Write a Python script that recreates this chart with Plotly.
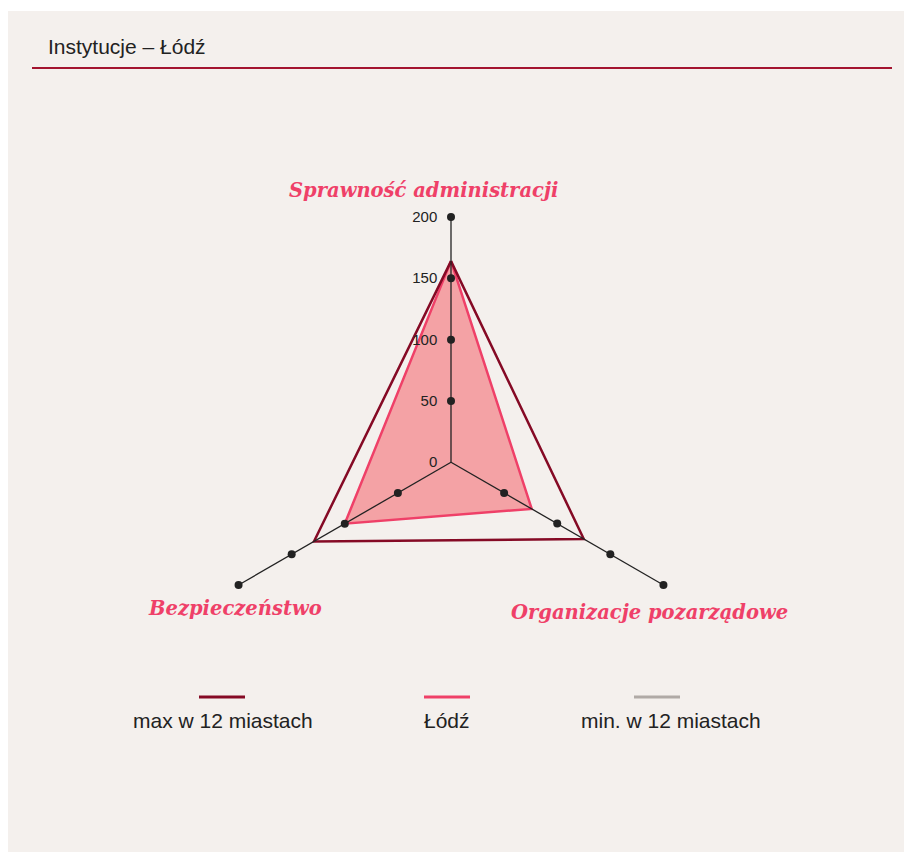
import plotly.graph_objects as go

# ---- data ----
categories = ["Sprawność administracji", "Organizacje pozarządowe", "Bezpieczeństwo"]
max_values = [164, 125, 129]
lodz_values = [164, 76, 100]
min_values = [0, 0, 0]
radial_ticks = [0, 50, 100, 150, 200]
series_names = ["max w 12 miastach", "Łódź", "min. w 12 miastach"]
title_text = "Instytucje – Łódź"

W, H = 904, 852
BG = "#f4f0ed"
DARK = "#850a25"
PINK = "#ef4068"
FILL = "#f4a2a5"
GRAY = "#b0aaa6"
AXIS = "#222222"

def px(x):
    return x / W

def py(y):
    return 1 - y / H

fig = go.Figure()

def closed(vals):
    return list(vals) + [vals[0]]

theta_c = closed(categories)

fig.add_trace(go.Scatterpolar(r=closed(min_values), theta=theta_c, mode="lines",
                              line=dict(color=GRAY, width=2), name=series_names[2],
                              showlegend=False))
fig.add_trace(go.Scatterpolar(r=closed(lodz_values), theta=theta_c, mode="lines",
                              fill="toself", fillcolor=FILL,
                              line=dict(color=PINK, width=2.5), name=series_names[1],
                              showlegend=False))
fig.add_trace(go.Scatterpolar(r=closed(max_values), theta=theta_c, mode="lines",
                              line=dict(color=DARK, width=2.5), name=series_names[0],
                              showlegend=False))

# spokes drawn above the filled area
rmin, rmax = radial_ticks[0], radial_ticks[-1]
for c in categories:
    fig.add_trace(go.Scatterpolar(r=[rmin, rmax], theta=[c, c], mode="lines",
                                  line=dict(color=AXIS, width=1.3), showlegend=False,
                                  hoverinfo="skip"))

# tick dots on each spoke
dot_r, dot_t = [], []
for c in categories:
    for t in radial_ticks[1:]:
        dot_r.append(t)
        dot_t.append(c)
fig.add_trace(go.Scatterpolar(r=dot_r, theta=dot_t, mode="markers",
                              marker=dict(color=AXIS, size=8), showlegend=False,
                              hoverinfo="skip"))

cx, cy, R = 451, 462.3, 245.3
fig.update_layout(
    width=W, height=H,
    margin=dict(l=0, r=0, t=0, b=0),
    paper_bgcolor="white",
    plot_bgcolor="rgba(0,0,0,0)",
    showlegend=False,
    polar=dict(
        domain=dict(x=[px(cx - R), px(cx + R)], y=[py(cy + R), py(cy - R)]),
        bgcolor="rgba(0,0,0,0)",
        radialaxis=dict(range=[0, 200], tickvals=radial_ticks, showgrid=False,
                        showline=False, angle=90, tickangle=90,
                        ticks="outside", ticklen=8, tickcolor="rgba(0,0,0,0)",
                        side="counterclockwise",
                        tickfont=dict(family="Liberation Sans, Arial", size=15, color=AXIS)),
        angularaxis=dict(rotation=90, direction="clockwise", showline=False,
                         showgrid=False, showticklabels=False, ticks=""),
    ),
)

shapes = [
    dict(type="rect", xref="paper", yref="paper", x0=px(8), x1=1, y0=0, y1=py(11),
         fillcolor=BG, line=dict(width=0), layer="below"),
    dict(type="line", xref="paper", yref="paper", x0=px(32), x1=px(892), y0=py(68), y1=py(68),
         line=dict(color="#a3142f", width=2)),
]
legend_colors = [DARK, PINK, GRAY]
legend_centers = [222, 447, 657]
for col, xc in zip(legend_colors, legend_centers):
    shapes.append(dict(type="line", xref="paper", yref="paper", x0=px(xc - 23), x1=px(xc + 23),
                       y0=py(697), y1=py(697), line=dict(color=col, width=3)))
fig.update_layout(shapes=shapes)

annotations = [
    dict(text=title_text, x=px(46), y=py(46), xanchor="left", yanchor="middle",
         font=dict(family="Liberation Sans, Arial", size=21, color="#222222")),
]
legend_text_centers = [223, 447, 671]
for name, xc in zip(series_names, legend_text_centers):
    annotations.append(dict(text=name, x=px(xc), y=py(720), xanchor="center", yanchor="middle",
                            font=dict(family="Liberation Sans, Arial", size=21, color="#222222")))
label_pos = [(423, 190), (649, 612), (235, 608)]
for cat, (lx, ly) in zip(categories, label_pos):
    annotations.append(dict(text=cat, x=px(lx), y=py(ly), xanchor="center", yanchor="middle",
                            font=dict(family="DejaVu Serif", size=19.5, color=PINK,
                                      weight="bold", style="italic")))
for a in annotations:
    a.update(xref="paper", yref="paper", showarrow=False)
fig.update_layout(annotations=annotations)

fig.write_html(
    "out.html",
    config={"displayModeBar": False},
    post_script=("document.body.style.margin='0';"
                 "document.body.style.overflow='hidden';"
                 "document.documentElement.style.overflow='hidden';"),
)
